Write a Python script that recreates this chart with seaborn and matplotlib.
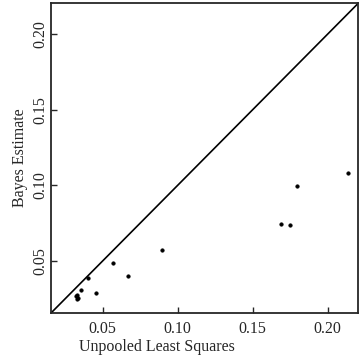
import pandas as pd
import seaborn as sns
import matplotlib.pyplot as plt

# unpooled least squares vs bayes estimate
unpooled = [0.2137, 0.1797, 0.1688, 0.1747, 0.0894, 0.0569, 0.0670, 0.0405,
            0.0456, 0.0357, 0.0331, 0.0323, 0.0330, 0.0336]
bayes = [0.1082, 0.0995, 0.0747, 0.0740, 0.0573, 0.0483, 0.0403, 0.0385,
         0.0290, 0.0310, 0.0277, 0.0265, 0.0245, 0.0255]
lims = [0.0155, 0.2205]
ticks = [0.05, 0.10, 0.15, 0.20]

df = pd.DataFrame({'x': unpooled, 'y': bayes})

sns.set_style('ticks')
plt.rcParams['font.family'] = ['Liberation Serif', 'DejaVu Serif']

fig = plt.figure(figsize=(3.59, 3.59), dpi=100)
ax = fig.add_axes([0.142, 0.128, 0.856, 0.863])

sns.scatterplot(data=df, x='x', y='y', ax=ax, color='black', s=7,
                edgecolor='black', linewidth=0.3)
sns.lineplot(x=lims, y=lims, ax=ax, color='black', linewidth=1.2)

ax.set_xlim(lims)
ax.set_ylim(lims)
ax.set_xticks(ticks)
ax.set_yticks(ticks)
ax.set_xticklabels([f'{t:.2f}' for t in ticks], fontsize=11.5)
ax.set_yticklabels([f'{t:.2f}' for t in ticks], fontsize=11.5, rotation=90, va='center')
ax.tick_params(direction='in', length=4, width=1)
ax.tick_params(axis='x', pad=6)
ax.tick_params(axis='y', pad=2)
ax.set_xlabel('Unpooled Least Squares', fontsize=11.5)
ax.set_ylabel('Bayes Estimate', fontsize=11.5)
ax.xaxis.set_label_coords(0.344, -0.083)
ax.yaxis.set_label_coords(-0.075, 0.503)
for s in ax.spines.values():
    s.set_linewidth(1.3)
    s.set_visible(True)

fig.savefig('out.png', dpi=100)
